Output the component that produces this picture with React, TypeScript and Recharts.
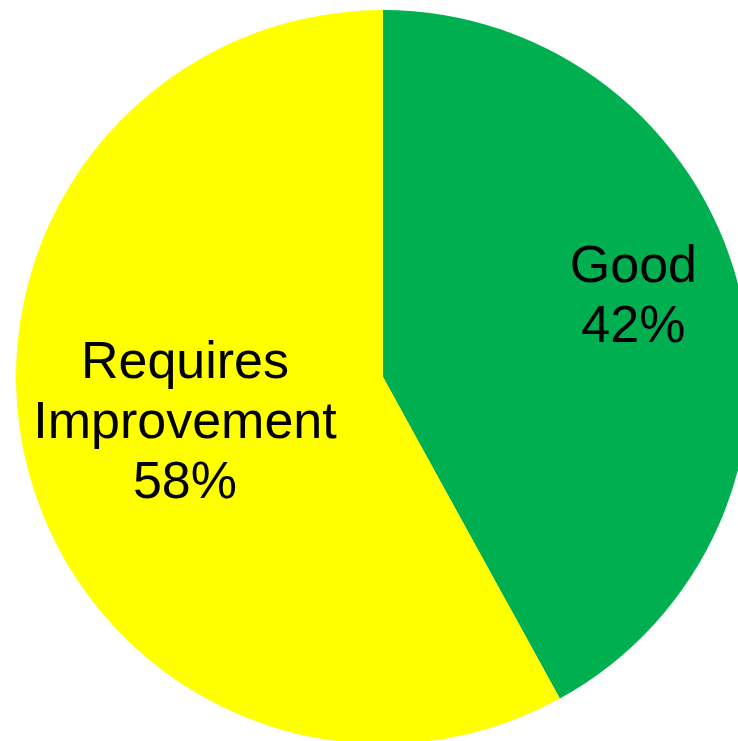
import React from 'react';
import { PieChart, Pie, Cell } from 'recharts';

const categories = ['Good', 'Requires Improvement'];
const values = [42, 58];
const colors = ['#00B050', '#FFFF00'];

const data = categories.map((name, i) => ({ name, value: values[i] }));

const RAD = Math.PI / 180;
const CX = 383;
const CY = 377;
const R = 367;
// label placement: radial fraction and angular nudge per slice
const labelPlace = [
  { k: 0.719, rot: 4 },
  { k: 0.552, rot: -2.2 },
];

const renderLabel = (props: any) => {
  const { midAngle, index, name, percent } = props;
  const cx = props.cx ?? CX;
  const cy = props.cy ?? CY;
  const r = props.outerRadius ?? R;
  const p = labelPlace[index] || { k: 0.6, rot: 0 };
  const a = (midAngle + p.rot) * RAD;
  const x = cx + r * p.k * Math.cos(-a);
  const y = cy + r * p.k * Math.sin(-a);
  const lines = [...String(name).split(' '), `${Math.round(percent * 100)}%`];
  const spacing = 60;
  const first = y - ((lines.length - 1) * spacing) / 2 + 18.5;
  return (
    <text
      x={x}
      y={first}
      textAnchor="middle"
      fill="#000"
      fontFamily="'Liberation Sans', Arial, sans-serif"
      fontSize={52}
    >
      {lines.map((l, i) => (
        <tspan key={i} x={x} y={first + i * spacing}>
          {l}
        </tspan>
      ))}
    </text>
  );
};

export default function App() {
  return (
    <div
      style={{
        position: 'fixed',
        left: 0,
        top: 0,
        width: 738,
        height: 741,
        overflow: 'hidden',
        background: '#fff',
      }}
    >
      <PieChart width={760} height={760} margin={{ top: 0, right: 0, bottom: 0, left: 0 }}>
        <Pie
          data={data}
          dataKey="value"
          nameKey="name"
          cx={CX}
          cy={CY}
          outerRadius={R}
          startAngle={90}
          endAngle={-270}
          stroke="none"
          labelLine={false}
          label={renderLabel}
          isAnimationActive={false}
        >
          {data.map((d, i) => (
            <Cell key={d.name} fill={colors[i]} stroke="none" />
          ))}
        </Pie>
      </PieChart>
    </div>
  );
}
